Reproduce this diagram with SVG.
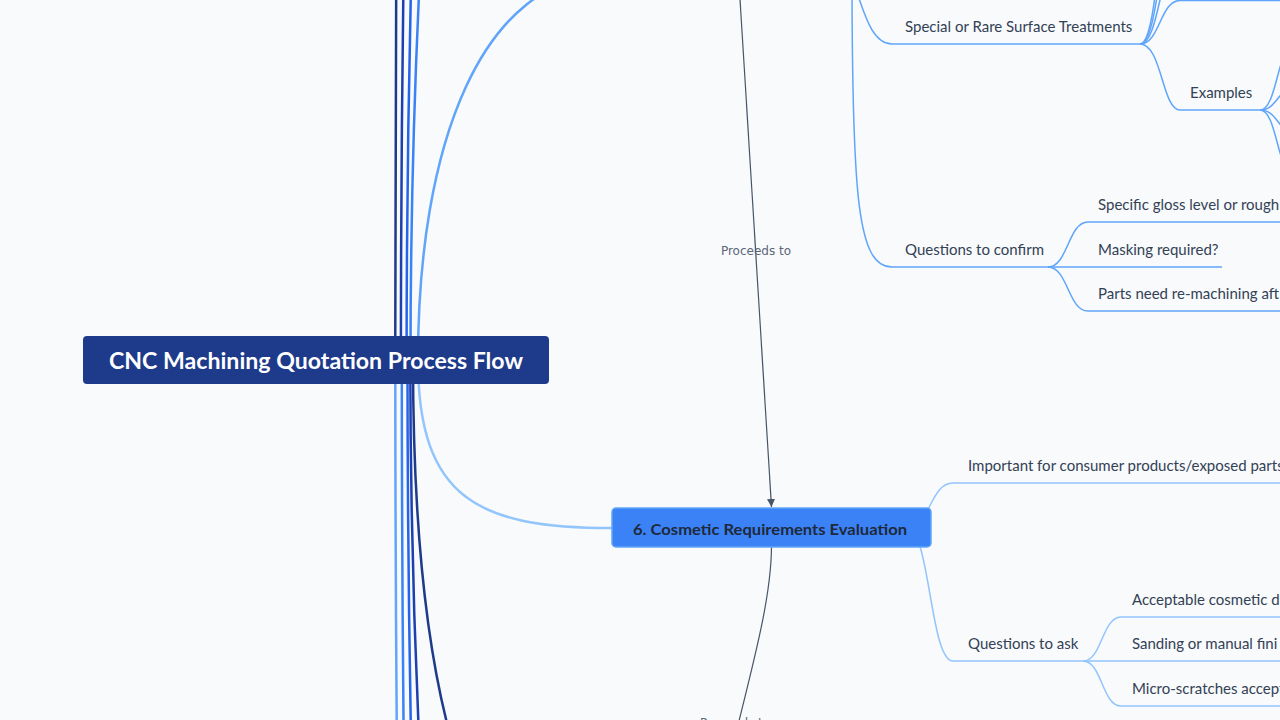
<svg xmlns="http://www.w3.org/2000/svg" width="1280" height="720" viewBox="0 0 1280 720">
<defs>
<style>
.l1{fill:none;stroke-width:2.5;stroke-linecap:round}
.l2{fill:none;stroke-width:1.5}
.n1{stroke:#1e3a8a}.n2{stroke:#1e40af}.n3{stroke:#2563eb}.n4{stroke:#3b82f6}
.c5{stroke:#60a5fa}.c6{stroke:#93c5fd}
.t{font-family:Lato,"Liberation Sans",sans-serif;font-size:15px;fill:#334155}
.flow{fill:none;stroke:#475569;stroke-width:1.2}
.lbl{font-family:"DejaVu Sans",sans-serif;font-size:12px;fill:#5b6678}
</style>
<marker id="arr" viewBox="0 0 10 10" refX="10" refY="5" markerWidth="8" markerHeight="8" markerUnits="userSpaceOnUse" orient="auto"><path d="M0,0 L10,5 L0,10 z" fill="#475569"/></marker>
</defs>
<rect width="1280" height="720" fill="#f8fafc"/>
<g id="connectors">
<path class="l1 n1" d="M395.2,360 Q395.2,-90 397.6,-540"/>
<path class="l1 n2" d="M400.9,360 Q400.9,-90 415.7,-540"/>
<path class="l1 n3" d="M406.6,360 Q406.6,-90 432.3,-540"/>
<path class="l1 n4" d="M410.5,360 Q410.5,-90 461.9,-540"/>
<path class="l1 c5" d="M418,360 C418,148 480,-25.5 612,-25.5"/>
<path class="l1 c6" d="M418,360 C418,500 480,528 612,528"/>
<path class="l1 n1" d="M413,360 C413,700 470,916 612,916"/>
<path class="l1 n2" d="M410.3,360 Q410.3,810 460.3,1260"/>
<path class="l1 n3" d="M407.5,360 Q407.5,810 427.5,1260"/>
<path class="l1 n4" d="M401.8,360 Q401.8,810 412.4,1260"/>
<path class="l1 c5" d="M395.3,360 Q395.3,810 404,1260"/>
<path class="l2 c5" d="M850,-25 C862,0 868,44 892,44 H1140"/>
<path class="l2 c5" d="M852,-25 C852,200 858,267 892,267 H1048"/>
<path class="l2 c5" d="M1048,267 C1068,267 1068,222 1088,222 H1290"/>
<path class="l2 c5" d="M1048,267 H1222"/>
<path class="l2 c5" d="M1048,267 C1068,267 1068,311 1088,311 H1290"/>
<path class="l2 c5" d="M1140,44 C1160,44 1160,0.5 1180,0.5 H1290"/>
<path class="l2 c5" d="M1140,44 C1160,44 1160,-44 1180,-44"/>
<path class="l2 c5" d="M1140,44 C1160,44 1160,-88 1180,-88"/>
<path class="l2 c5" d="M1140,44 C1160,44 1160,-133 1180,-133"/>
<path class="l2 c5" d="M1140,44 C1162,44 1162,110 1180,110 H1260"/>
<path class="l2 c5" d="M1260,110 C1277.5,110 1277.5,43 1295,43"/>
<path class="l2 c5" d="M1260,110 C1277.5,110 1277.5,88 1295,88"/>
<path class="l2 c5" d="M1260,110 C1277.5,110 1277.5,132 1295,132"/>
<path class="l2 c5" d="M1260,110 C1277.5,110 1277.5,177 1295,177"/>
<path class="l2 c6" d="M907,528 C930,528 930,483 953,483 H1290"/>
<path class="l2 c6" d="M907,528 C930,528 930,661 953,661 H1083"/>
<path class="l2 c6" d="M1083,661 C1102,661 1102,617 1121,617 H1290"/>
<path class="l2 c6" d="M1083,661 H1290"/>
<path class="l2 c6" d="M1083,661 C1102,661 1102,706 1121,706 H1290"/>
<path class="flow" d="M738.2,-30 L771.5,507" marker-end="url(#arr)"/>
<text class="lbl" x="756" y="255" text-anchor="middle">Proceeds to</text>
<path class="flow" d="M771.5,547 C771,610 745,690 720,800"/>
<text class="lbl" x="700" y="727">Proceeds to</text>
</g>
<g id="root">
<rect x="83" y="336" width="466" height="48" rx="4" fill="#1e3a8a"/>
<text x="109" y="369" textLength="414" lengthAdjust="spacingAndGlyphs" font-family="Lato, 'Liberation Sans', sans-serif" font-size="23" font-weight="bold" fill="#ffffff">CNC Machining Quotation Process Flow</text>
</g>
<g id="node6">
<rect x="612" y="508" width="319" height="39" rx="4" fill="#3b82f6" stroke="#60a5fa" stroke-width="1.5"/>
<text x="633" y="534.5" textLength="274" lengthAdjust="spacingAndGlyphs" font-family="Lato, 'Liberation Sans', sans-serif" font-size="16" font-weight="bold" fill="#1e293b">6. Cosmetic Requirements Evaluation</text>
</g>
<g id="special"><text class="t" x="905" y="32">Special or Rare Surface Treatments</text></g>
<g id="examples"><text class="t" x="1190" y="98">Examples</text></g>
<g id="confirm"><text class="t" x="905" y="255">Questions to confirm</text></g>
<g id="gloss"><text class="t" x="1098" y="210">Specific gloss level or rough</text></g>
<g id="masking"><text class="t" x="1098" y="255">Masking required?</text></g>
<g id="remachining"><text class="t" x="1098" y="299">Parts need re-machining aft</text></g>
<g id="important"><text class="t" x="968" y="471">Important for consumer products/exposed parts</text></g>
<g id="ask"><text class="t" x="968" y="649">Questions to ask</text></g>
<g id="defects"><text class="t" x="1132" y="605">Acceptable cosmetic de</text></g>
<g id="sanding"><text class="t" x="1132" y="649">Sanding or manual fini</text></g>
<g id="scratches"><text class="t" x="1132" y="694">Micro-scratches accept</text></g>
</svg>
